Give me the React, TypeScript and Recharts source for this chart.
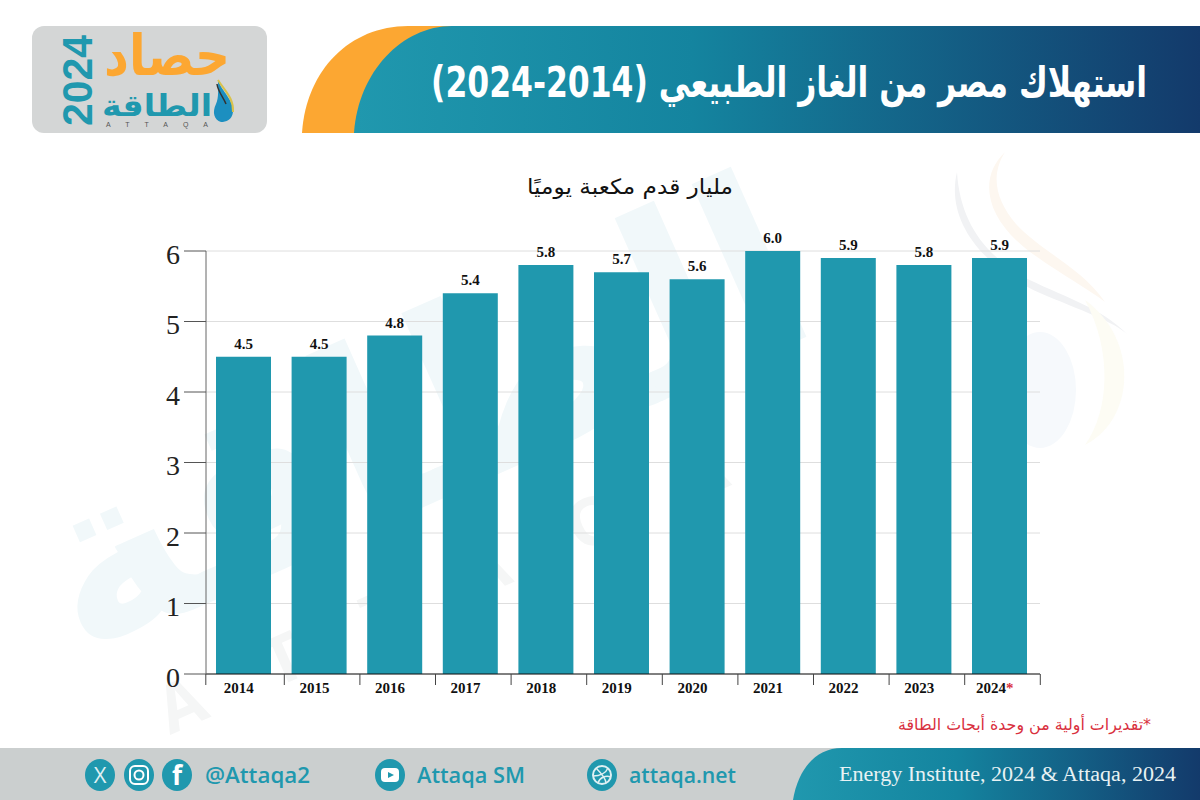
import { BarChart, Bar, XAxis, YAxis, CartesianGrid, LabelList } from "recharts";

const years = ["2014", "2015", "2016", "2017", "2018", "2019", "2020", "2021", "2022", "2023", "2024*"];
const consumption = [4.5, 4.5, 4.8, 5.4, 5.8, 5.7, 5.6, 6.0, 5.9, 5.8, 5.9];
const yTicks = [0, 1, 2, 3, 4, 5, 6];

const data = years.map((year, i) => ({ year, value: consumption[i] }));

const TEAL = "#2098ae";
const SERIF = "'Liberation Serif', serif";
const ARABIC = "'DejaVu Sans', sans-serif";
const FOOT = "'Open Sans', sans-serif";

// category ticks sit a little right of the band edges in the original
function YearTick(props: any) {
  const { x, y, payload, index } = props;
  const label: string = payload.value;
  const star = label.endsWith("*");
  return (
    <g>
      {index === 0 && <line x1={x - 38} x2={x - 38} y1={y - 8} y2={y + 3} stroke="#444" />}
      <line x1={x + 40.5} x2={x + 40.5} y1={y - 8} y2={y + 3} stroke="#444" />
      <text x={x - 5} y={y + 11} textAnchor="middle" fontFamily={SERIF} fontWeight="bold" fontSize={15} fill="#111">
        {label.replace("*", "")}
        {star && <tspan fill="#d9303e">*</tspan>}
      </text>
    </g>
  );
}

function Backdrop() {
  return (
    <svg width={1200} height={800} style={{ position: "absolute", left: 0, top: 0 }}>
      <defs>
        <linearGradient id="band" x1="0" x2="1" y1="0" y2="0">
          <stop offset="0" stopColor="#2098ae" />
          <stop offset="0.4" stopColor="#14849f" />
          <stop offset="1" stopColor="#133a6b" />
        </linearGradient>
      </defs>

      {/* watermark */}
      <text x={80} y={660} fontFamily={ARABIC} fontWeight="bold" fontSize={245} fill="#f1f8fa" transform="rotate(-24 80 660)">
        الطاقة
      </text>
      <text x={170} y={735} fontFamily={FOOT} fontWeight="bold" fontSize={66} fill="#f5f6f6" letterSpacing={70} transform="rotate(-24 170 735)">
        ATTAQA
      </text>
      <path d="M957,172 C945,222 985,268 1040,293 C1080,310 1115,322 1128,335 C1100,306 1060,296 1022,276 C985,254 960,222 957,172 Z" fill="#f1f2f4" />
      <path d="M1005,152 C978,178 985,218 1030,252 C1065,277 1090,290 1105,302 C1082,268 1042,252 1016,224 C996,200 990,176 1005,152 Z" fill="#fdf7f0" />
      <ellipse cx={1040} cy={390} rx={36} ry={58} fill="#f6f9fc" />
      <path d="M1085,300 C1140,340 1135,420 1085,445 C1110,410 1112,350 1085,300 Z" fill="#fdfcf4" />

      {/* header */}
      <path d="M302,133 C306,70 350,26 408,26 L520,26 L520,133 Z" fill="#fca732" />
      <path d="M354,133 C358,72 402,26 452,26 L1200,26 L1200,133 Z" fill="url(#band)" />

      {/* logo */}
      <rect x={32} y={26} width={235} height={107} rx={12} fill="#d4d6d6" />
      <text x={230} y={75} textAnchor="end" fontFamily={ARABIC} fontWeight="bold" fontSize={56} fill="#fca732" textLength={126} lengthAdjust="spacingAndGlyphs">
        حصاد
      </text>
      <text x={212} y={116} textAnchor="end" fontFamily={ARABIC} fontWeight="bold" fontSize={30} fill={TEAL} textLength={110} lengthAdjust="spacingAndGlyphs">
        الطاقة
      </text>
      <text x={92} y={126} transform="rotate(-90 92 126)" fontFamily="'Liberation Sans', sans-serif" fontWeight="bold" fontSize={42} fill={TEAL} textLength={91} lengthAdjust="spacingAndGlyphs">
        2024
      </text>
      <text x={106} y={127} fontFamily="'Liberation Sans', sans-serif" fontSize={7} fill="#555" textLength={102}>
        ATTAQA
      </text>
      <path d="M218,80 C222,92 234,100 233,112 C232,120 226,122 221,122 C214,120 212,112 216,104 C219,98 218,88 218,80 Z" fill="#1c8fc0" />
      <path d="M218,80 C224,90 234,98 233,112" fill="none" stroke="#d8c24c" strokeWidth={2} />
      <path d="M217,84 C218,92 224,98 226,104" fill="none" stroke="#333" strokeWidth={1.5} />

      {/* footer */}
      <rect x={0} y={748} width={1200} height={52} fill="#cbcfcf" />
      <path d="M793,800 C798,770 815,748 842,748 L1200,748 L1200,800 Z" fill="url(#band)" />
      <text x={1176} y={781} textAnchor="end" fontFamily={SERIF} fontSize={20} fill="#e8f2f4" textLength={337} lengthAdjust="spacingAndGlyphs">
        Energy Institute, 2024 &amp; Attaqa, 2024
      </text>

      <g fill={TEAL}>
        <ellipse cx={100} cy={775} rx={15} ry={16} />
        <ellipse cx={139} cy={775} rx={15} ry={16} />
        <ellipse cx={177} cy={775} rx={15} ry={16} />
        <ellipse cx={390} cy={775} rx={15} ry={16} />
        <ellipse cx={602} cy={775} rx={15} ry={16} />
      </g>
      <text x={100} y={783} textAnchor="middle" fontFamily={FOOT} fontSize={22} fill="#dff0f3">X</text>
      <rect x={130} y={766} width={18} height={18} rx={5} fill="none" stroke="#fff" strokeWidth={2} />
      <circle cx={139} cy={775} r={4.5} fill="none" stroke="#fff" strokeWidth={2} />
      <text x={177} y={785} textAnchor="middle" fontFamily={FOOT} fontWeight="bold" fontSize={26} fill="#fff">f</text>
      <rect x={381} y={768} width={18} height={14} rx={4} fill="#fff" />
      <path d="M388,772 L394,775 L388,778 Z" fill={TEAL} />
      <circle cx={602} cy={775} r={9} fill="none" stroke="#dff0f3" strokeWidth={2} />
      <path d="M596,768 C602,774 606,780 606,783 M593,776 C600,776 606,773 608,768 M598,783 C600,777 606,775 611,777" fill="none" stroke="#dff0f3" strokeWidth={1.5} />
      <g fontFamily={FOOT} fontWeight="600" fontSize={22} fill={TEAL}>
        <text x={205} y={783} textLength={105} lengthAdjust="spacingAndGlyphs">@Attaqa2</text>
        <text x={417} y={783} textLength={108} lengthAdjust="spacingAndGlyphs">Attaqa SM</text>
        <text x={629} y={783} textLength={107} lengthAdjust="spacingAndGlyphs">attaqa.net</text>
      </g>
    </svg>
  );
}

function Captions() {
  return (
    <svg width={1200} height={800} style={{ position: "absolute", left: 0, top: 0, pointerEvents: "none" }}>
      <text x={1147} y={97} direction="rtl" fontFamily={ARABIC} fontWeight="bold" fontSize={42} fill="#fff" textLength={716} lengthAdjust="spacingAndGlyphs">
        استهلاك مصر من الغاز الطبيعي (2014-2024)
      </text>
      <text x={733} y={194} direction="rtl" fontFamily={ARABIC} fontSize={21} fill="#111" textLength={206} lengthAdjust="spacingAndGlyphs">
        مليار قدم مكعبة يوميًا
      </text>
      <text x={1151} y={730} direction="rtl" fontFamily={ARABIC} fontSize={16} fill="#d9303e" textLength={253} lengthAdjust="spacingAndGlyphs">
        *تقديرات أولية من وحدة أبحاث الطاقة
      </text>
    </svg>
  );
}

export default function App() {
  return (
    <div style={{ position: "absolute", left: 0, top: 0, width: 1200, height: 800, background: "#fff", overflow: "hidden" }}>
      <Backdrop />
      <div style={{ position: "absolute", left: 0, top: 0 }}>
        <BarChart
          width={1200}
          height={800}
          data={data}
          margin={{ top: 251, right: 160, bottom: 0, left: 0 }}
          barSize={55}
        >
          <CartesianGrid horizontal vertical={false} stroke="#dedede" />
          <XAxis
            dataKey="year"
            height={126}
            interval={0}
            padding={{ left: 0, right: 2.4 }}
            axisLine={{ stroke: "#111" }}
            tickLine={false}
            tick={<YearTick />}
          />
          <YAxis
            width={206}
            domain={[0, 6]}
            ticks={yTicks}
            interval={0}
            axisLine={{ stroke: "#666" }}
            tickLine={{ stroke: "#555" }}
            tickSize={22}
            tickMargin={4}
            tick={{ fill: "#222", fontSize: 28, fontFamily: SERIF, dy: 3 }}
          />
          <Bar dataKey="value" fill={TEAL} isAnimationActive={false}>
            <LabelList
              dataKey="value"
              position="top"
              offset={8}
              formatter={(v: any) => Number(v).toFixed(1)}
              style={{ fontFamily: SERIF, fontWeight: "bold", fontSize: 15, fill: "#111" }}
            />
          </Bar>
        </BarChart>
      </div>
      <Captions />
    </div>
  );
}
